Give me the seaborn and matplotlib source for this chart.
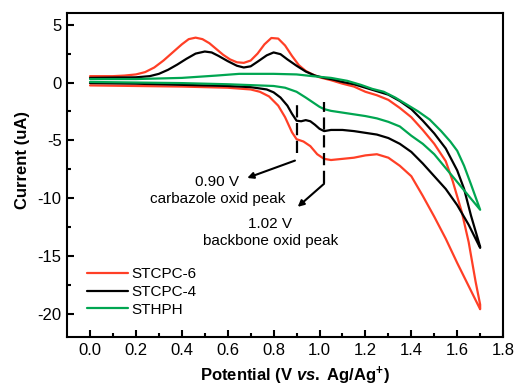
import numpy as np
import pandas as pd
import matplotlib
matplotlib.use("Agg")
import matplotlib.pyplot as plt
import seaborn as sns

# Cyclic voltammograms: each loop = anodic branch (0 -> 1.70 V) + return branch (1.70 -> 0 V)
stcpc6_fwd_v = [0.00, 0.10, 0.15, 0.20, 0.24, 0.28, 0.32, 0.36, 0.40, 0.43, 0.46, 0.49, 0.52,
                0.55, 0.58, 0.61, 0.64, 0.67, 0.70, 0.73, 0.76, 0.79, 0.82, 0.85, 0.88, 0.91,
                0.94, 0.97, 1.00, 1.05, 1.10, 1.15, 1.20, 1.25, 1.30, 1.35, 1.40, 1.45, 1.50,
                1.55, 1.58, 1.62, 1.65, 1.68, 1.70]
stcpc6_fwd_i = [0.55, 0.55, 0.6, 0.7, 0.9, 1.3, 1.9, 2.6, 3.3, 3.75, 3.88, 3.75, 3.4,
                2.9, 2.4, 2.0, 1.75, 1.7, 1.9, 2.5, 3.3, 3.85, 3.8, 3.2, 2.3, 1.5,
                1.0, 0.7, 0.45, 0.2, -0.1, -0.35, -0.8, -1.1, -1.5, -2.2, -3.0, -4.1, -5.3,
                -6.8, -8.5, -11.2, -13.8, -17.2, -19.2]
stcpc6_rev_v = [1.70, 1.65, 1.60, 1.55, 1.50, 1.45, 1.40, 1.35, 1.30, 1.25, 1.20, 1.15, 1.10,
                1.05, 1.02, 0.99, 0.96, 0.93, 0.90, 0.88, 0.85, 0.82, 0.78, 0.74, 0.70, 0.60,
                0.40, 0.20, 0.00]
stcpc6_rev_i = [-19.6, -17.6, -15.6, -13.5, -11.6, -9.8, -8.1, -7.2, -6.5, -6.2, -6.3, -6.5, -6.6,
                -6.7, -6.6, -6.2, -5.5, -5.1, -4.9, -4.3, -3.0, -2.0, -1.2, -0.8, -0.6, -0.45,
                -0.35, -0.3, -0.25]

stcpc4_fwd_v = [0.00, 0.20, 0.26, 0.30, 0.34, 0.38, 0.42, 0.46, 0.50, 0.53, 0.56, 0.60, 0.64,
                0.67, 0.70, 0.73, 0.77, 0.80, 0.83, 0.86, 0.90, 0.94, 0.98, 1.02, 1.06, 1.10,
                1.15, 1.20, 1.25, 1.30, 1.35, 1.40, 1.45, 1.50, 1.55, 1.60, 1.63, 1.66, 1.70]
stcpc4_fwd_i = [0.4, 0.45, 0.55, 0.75, 1.1, 1.55, 2.05, 2.5, 2.68, 2.6, 2.3, 1.85, 1.45,
                1.3, 1.4, 1.8, 2.35, 2.6, 2.45, 2.0, 1.45, 0.95, 0.6, 0.4, 0.25, 0.05,
                -0.15, -0.45, -0.75, -1.05, -1.6, -2.3, -3.3, -4.4, -5.7, -7.6, -9.2, -11.5, -14.2]
stcpc4_rev_v = [1.70, 1.65, 1.60, 1.55, 1.50, 1.45, 1.40, 1.35, 1.30, 1.25, 1.20, 1.15, 1.10,
                1.05, 1.02, 1.00, 0.98, 0.96, 0.94, 0.92, 0.90, 0.88, 0.86, 0.83, 0.80, 0.77,
                0.70, 0.60, 0.40, 0.20, 0.00]
stcpc4_rev_i = [-14.3, -12.3, -10.6, -9.2, -8.1, -7.0, -6.0, -5.3, -4.8, -4.5, -4.35, -4.2, -4.1,
                -4.1, -4.2, -4.0, -3.65, -3.35, -3.25, -3.35, -3.3, -2.7, -2.0, -1.3, -0.85, -0.6,
                -0.4, -0.3, -0.2, -0.1, -0.05]

sthph_fwd_v = [0.00, 0.20, 0.40, 0.55, 0.65, 0.80, 0.90, 0.97, 1.05, 1.12, 1.18, 1.23, 1.28,
               1.33, 1.38, 1.43, 1.48, 1.53, 1.57, 1.60, 1.63, 1.66, 1.70]
sthph_fwd_i = [0.3, 0.3, 0.4, 0.6, 0.75, 0.75, 0.7, 0.55, 0.4, 0.15, -0.2, -0.55, -0.8,
               -1.3, -1.9, -2.5, -3.2, -4.2, -5.1, -5.9, -7.2, -8.8, -11.0]
sthph_rev_v = [1.70, 1.65, 1.60, 1.55, 1.50, 1.45, 1.40, 1.35, 1.30, 1.25, 1.20, 1.15, 1.10,
               1.05, 1.02, 1.00, 0.97, 0.94, 0.90, 0.85, 0.80, 0.60, 0.40, 0.20, 0.00]
sthph_rev_i = [-11.0, -9.8, -8.6, -7.4, -6.2, -5.3, -4.6, -3.8, -3.4, -3.1, -2.9, -2.75, -2.6,
               -2.45, -2.3, -2.1, -1.7, -1.3, -0.8, -0.45, -0.3, -0.15, -0.05, 0.0, 0.05]

samples = ["STCPC-6", "STCPC-4", "STHPH"]
colors = ["#FF3F26", "#000000", "#00A651"]

# Oxidation features marked on the return sweep
peak_v = [0.90, 1.02]
peak_labels = ["0.90 V\ncarbazole oxid peak", "1.02 V\nbackbone oxid peak"]

sns.set_theme(style="ticks")
plt.rcParams["font.family"] = ["Liberation Sans", "DejaVu Sans"]
plt.rcParams["axes.unicode_minus"] = False
plt.rcParams["text.color"] = "black"
plt.rcParams["axes.labelcolor"] = "black"
plt.rcParams["xtick.color"] = "black"
plt.rcParams["ytick.color"] = "black"
plt.rcParams["mathtext.fontset"] = "custom"
plt.rcParams["mathtext.rm"] = "Liberation Sans:bold"
plt.rcParams["mathtext.bf"] = "Liberation Sans:bold"
plt.rcParams["mathtext.it"] = "Liberation Sans:italic:bold"

frames = []
loops = {
    "STCPC-6": (stcpc6_fwd_v + stcpc6_rev_v, stcpc6_fwd_i + stcpc6_rev_i),
    "STCPC-4": (stcpc4_fwd_v + stcpc4_rev_v, stcpc4_fwd_i + stcpc4_rev_i),
    "STHPH": (sthph_fwd_v + sthph_rev_v, sthph_fwd_i + sthph_rev_i),
}
for name in samples:
    v, i = loops[name]
    frames.append(pd.DataFrame({"Potential": v, "Current": i, "Sample": name,
                                "step": np.arange(len(v))}))
df = pd.concat(frames, ignore_index=True)

fig = plt.figure(figsize=(5.16, 3.86), dpi=100)
ax = fig.add_axes([0.130, 0.127, 0.845, 0.839])

sns.lineplot(data=df, x="Potential", y="Current", hue="Sample", hue_order=samples,
             palette=dict(zip(samples, colors)), sort=False, estimator=None,
             units="Sample", lw=1.6, ax=ax, legend=False)
for ln in ax.lines:
    ln.set_solid_joinstyle("round")
    ln.set_solid_capstyle("round")

ax.set_xlim(-0.1, 1.8)
ax.set_ylim(-22, 6)
ax.set_xticks(np.arange(0, 1.81, 0.2))
ax.set_xticks(np.arange(0.1, 1.8, 0.2), minor=True)
ax.set_yticks([5, 0, -5, -10, -15, -20])
ax.set_yticks([2.5, -2.5, -7.5, -12.5, -17.5], minor=True)
ax.xaxis.set_major_formatter(matplotlib.ticker.FormatStrFormatter("%.1f"))
ax.tick_params(which="both", direction="in", width=1.5, top=False, right=False,
               labelsize=12, pad=4, colors="black")
ax.tick_params(which="major", length=5)
ax.tick_params(which="minor", length=3)
for s in ax.spines.values():
    s.set_linewidth(1.5)
    s.set_color("black")
    s.set_visible(True)

ax.set_xlabel(r"Potential (V $\mathit{vs.}$ Ag/Ag$^{+}$)", fontsize=12, fontweight="bold")
ax.set_ylabel("Current (uA)", fontsize=12, fontweight="bold")
ax.xaxis.set_label_coords(0.523, -0.085)
ax.yaxis.set_label_coords(-0.085, 0.545)

# Dashed markers at the two oxidation features
ax.vlines(peak_v[0], -6.1, -1.7, colors="black", linestyles=(0, (5.5, 2.5)), lw=1.6)
ax.vlines(peak_v[1], -8.7, -1.7, colors="black", linestyles=(0, (5.5, 2.5)), lw=1.6)

arrow = dict(arrowstyle="-|>", color="black", lw=1.5, mutation_scale=9, shrinkA=0, shrinkB=0)
ax.annotate("", xy=(0.685, -8.25), xytext=(0.893, -6.75), arrowprops=arrow)
ax.annotate("", xy=(0.905, -10.75), xytext=(1.02, -8.75), arrowprops=arrow)
ax.text(0.555, -9.35, peak_labels[0], ha="center", va="center", multialignment="center",
        fontsize=11, linespacing=1.25)
ax.text(0.785, -12.95, peak_labels[1], ha="center", va="center", multialignment="center",
        fontsize=11, linespacing=1.25)

handles = [matplotlib.lines.Line2D([], [], color=c, lw=1.6) for c in colors]
ax.legend(handles, samples, loc="center left", bbox_to_anchor=(0.045, 0.139), frameon=False,
          fontsize=11, handlelength=2.7, handletextpad=0.25, labelspacing=0.25,
          borderpad=0, borderaxespad=0)

fig.savefig("out.png", dpi=100)
